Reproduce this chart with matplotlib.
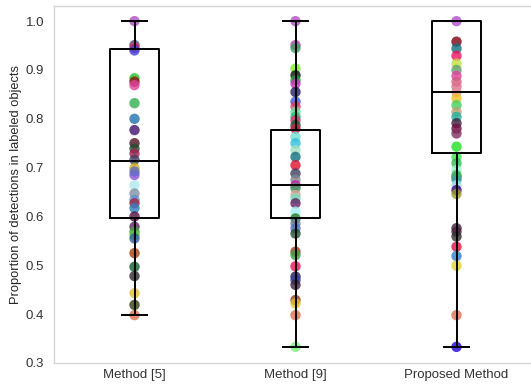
import matplotlib
matplotlib.use('Agg')
import matplotlib.pyplot as plt
import numpy as np

plt.rcParams.update({'font.family': ['Liberation Sans', 'DejaVu Sans']})

methods = ['Method [5]', 'Method [9]', 'Proposed Method']

# per-object proportions
vals_m5 = [1.0, 0.951, 0.945, 0.94, 0.883, 0.876, 0.869, 0.832, 0.80, 0.777,
           0.75, 0.739, 0.729, 0.716, 0.699, 0.685, 0.692, 0.664, 0.647, 0.634,
           0.627, 0.617, 0.60, 0.579, 0.569, 0.562, 0.555, 0.525, 0.497, 0.478,
           0.443, 0.419, 0.398]
cols_m5 = ['#b04fc0', '#5a4a7a', '#d02050', '#4040e0', '#20c020', '#8b1010', '#e040a0',
           '#30b050', '#2070b0', '#401070', '#501020', '#205030', '#a02050', '#404060',
           '#d0b020', '#9050e0', '#6070c0', '#b0e8f0', '#8090a0', '#6090d0', '#a02040',
           '#3080c0', '#501040', '#602060', '#40a040', '#60c040', '#3060a0', '#a04010',
           '#106030', '#302830', '#e0c030', '#304010', '#e07050']

vals_m9 = [1.0, 0.951, 0.945, 0.903, 0.889, 0.879, 0.872, 0.855, 0.835, 0.825,
           0.814, 0.804, 0.797, 0.787, 0.780, 0.763, 0.750, 0.736, 0.722, 0.705,
           0.688, 0.675, 0.664, 0.658, 0.644, 0.637, 0.627, 0.610, 0.596, 0.586,
           0.576, 0.565, 0.528, 0.521, 0.498, 0.477, 0.470, 0.460, 0.429, 0.422,
           0.398, 0.333]
cols_m9 = ['#b050c0', '#b040b0', '#40a060', '#80f020', '#101010', '#20a040', '#d030c0',
           '#202060', '#4050e0', '#e04060', '#60e0a0', '#20c070', '#e03070', '#106030',
           '#c02040', '#70e0d0', '#30c0e0', '#a0e0c0', '#107080', '#e01030', '#404060',
           '#808890', '#c020a0', '#40a060', '#e0a090', '#70e0c0', '#602060', '#a0f0f0',
           '#208020', '#7080a0', '#5070c0', '#205030', '#a04020', '#40a040', '#f0105a',
           '#202050', '#3040a0', '#402040', '#904020', '#e0c030', '#e07050', '#80f080']

vals_pm = [1.0, 0.958, 0.944, 0.929, 0.913, 0.900, 0.888, 0.876, 0.866, 0.855,
           0.842, 0.828, 0.814, 0.804, 0.791, 0.780, 0.770, 0.743, 0.722, 0.709,
           0.695, 0.681, 0.685, 0.675, 0.664, 0.654, 0.646, 0.576, 0.569, 0.559,
           0.538, 0.519, 0.499, 0.398, 0.333]
cols_pm = ['#b050d0', '#800010', '#107080', '#f01060', '#c0e040', '#60a070', '#e040a0',
           '#d06080', '#e07090', '#e090a0', '#f0c020', '#40d060', '#c0a070', '#20b0a0',
           '#402040', '#701040', '#803060', '#20e020', '#40e040', '#30c050', '#a0f0d0',
           '#206040', '#40c060', '#40a0a0', '#a0e0f0', '#400080', '#a0a020', '#402040',
           '#502040', '#303030', '#e01040', '#3080d0', '#e0d030', '#e07050', '#2000e0']

# box statistics
q1 = [0.597, 0.597, 0.730]
med = [0.713, 0.664, 0.855]
q3 = [0.943, 0.777, 1.0]
wlo = [0.398, 0.333, 0.333]
whi = [1.0, 1.0, 1.0]

fig = plt.figure(figsize=(5.31, 3.86), dpi=100)
ax = fig.add_axes([0.1017, 0.0596, 0.9096, 0.9248])

for i, (v, c) in enumerate([(vals_m5, cols_m5), (vals_m9, cols_m9), (vals_pm, cols_pm)]):
    ax.scatter(np.full(len(v), i + 1), v, c=c, s=56, alpha=0.8, linewidths=0, zorder=2)

stats = [dict(med=med[i], q1=q1[i], q3=q3[i], whislo=wlo[i], whishi=whi[i], fliers=[])
         for i in range(3)]
lp = dict(color='black', linewidth=1.4)
ax.bxp(stats, positions=[1, 2, 3], widths=0.3, boxprops=lp, whiskerprops=lp,
       capprops=lp, medianprops=lp, showfliers=False, manage_ticks=False, zorder=3)

ax.set_xlim(0.5, 3.5)
ax.set_ylim(0.3, 1.031)
ax.set_xticks([1, 2, 3])
ax.set_xticklabels(methods)
ax.set_yticks(np.arange(0.3, 1.01, 0.1))
ax.set_yticklabels(['%.1f' % t for t in np.arange(0.3, 1.01, 0.1)])
ax.set_ylabel('Proportion of detections in labeled objects', fontsize=9.3,
              color='#262626', labelpad=3)
ax.tick_params(axis='both', length=0, labelsize=9.5, colors='#333333')
ax.tick_params(axis='x', pad=4)
ax.tick_params(axis='y', pad=7)
for s in ax.spines.values():
    s.set_color('#d5d5d5')
    s.set_linewidth(1.0)

fig.savefig('out.png', dpi=100)
